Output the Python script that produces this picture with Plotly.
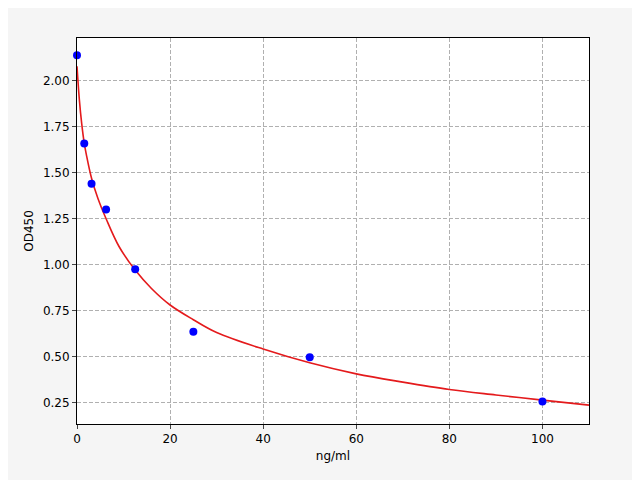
import plotly.graph_objects as go

x_pts = [0, 1.5625, 3.125, 6.25, 12.5, 25, 50, 100]
y_pts = [2.14, 1.66, 1.44, 1.30, 0.975, 0.635, 0.495, 0.255]
x_fit = [0, 0.5, 1, 1.5625, 2, 3.125, 4.5, 6.25, 9, 12.5, 16, 20, 25, 30, 40, 50, 60, 70, 80, 90, 100, 110]
y_fit = [2.08, 1.90, 1.77, 1.66, 1.60, 1.47, 1.36, 1.25, 1.10, 0.97, 0.87, 0.78, 0.70, 0.63, 0.54, 0.465, 0.405, 0.36, 0.32, 0.29, 0.262, 0.235]

fig = go.Figure()
fig.add_trace(go.Scatter(x=x_fit, y=y_fit, mode="lines", line=dict(color="#e41a1c", width=1.6, shape="spline"), hoverinfo="skip"))
fig.add_trace(go.Scatter(x=x_pts, y=y_pts, mode="markers", marker=dict(color="blue", size=8), cliponaxis=False))
ax = dict(showline=True, linecolor="black", mirror=True, ticks="outside", ticklen=4,
          gridcolor="#b0b0b0", griddash="4px,2px", zeroline=False, tickfont=dict(size=12, color="black"))
fig.update_layout(
    width=640, height=480, showlegend=False, paper_bgcolor="#f5f5f5", plot_bgcolor="white",
    margin=dict(l=69, r=59, t=30, b=64), font=dict(family="DejaVu Sans", color="black"),
    xaxis=dict(ax, range=[0, 110], tickvals=[0, 20, 40, 60, 80, 100], title=dict(text="ng/ml", font=dict(size=12), standoff=6)),
    yaxis=dict(ax, range=[0.132, 2.234], tickvals=[0.25, 0.5, 0.75, 1.0, 1.25, 1.5, 1.75, 2.0], tickformat=".2f", title=dict(text="OD450", font=dict(size=12), standoff=6)),
)
fig.write_html("out.html", config={"displayModeBar": False})
